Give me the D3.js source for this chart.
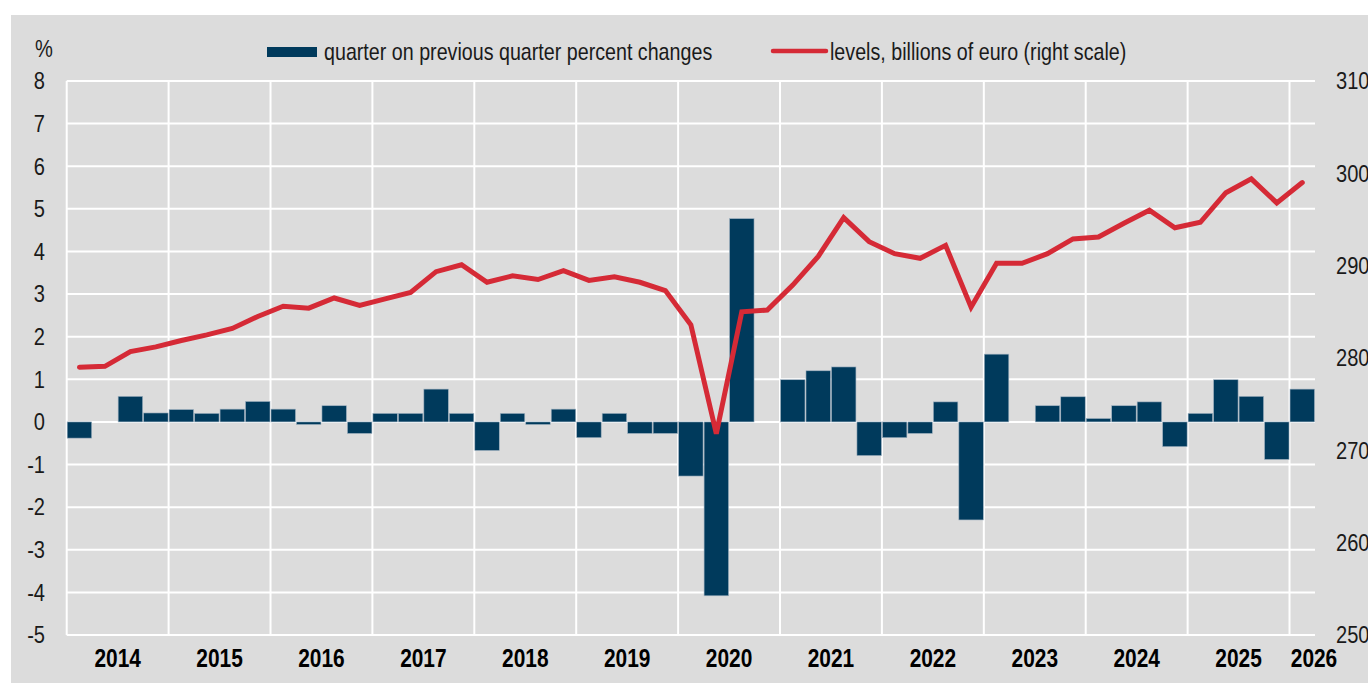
<!DOCTYPE html>
<html>
<head>
<meta charset="utf-8">
<script src="https://cdn.jsdelivr.net/npm/d3@7"></script>
<style>
  body { margin: 0; background: #fff; }
  svg { display: block; }
</style>
</head>
<body>
<svg id="chart" width="1368" height="686"></svg>
<script>
const quarters = [
  "2014Q1","2014Q2","2014Q3","2014Q4","2015Q1","2015Q2","2015Q3","2015Q4",
  "2016Q1","2016Q2","2016Q3","2016Q4","2017Q1","2017Q2","2017Q3","2017Q4",
  "2018Q1","2018Q2","2018Q3","2018Q4","2019Q1","2019Q2","2019Q3","2019Q4",
  "2020Q1","2020Q2","2020Q3","2020Q4","2021Q1","2021Q2","2021Q3","2021Q4",
  "2022Q1","2022Q2","2022Q3","2022Q4","2023Q1","2023Q2","2023Q3","2023Q4",
  "2024Q1","2024Q2","2024Q3","2024Q4","2025Q1","2025Q2","2025Q3","2025Q4",
  "2026Q1"
];
const years = [2014,2015,2016,2017,2018,2019,2020,2021,2022,2023,2024,2025,2026];

// quarter on previous quarter % change (left scale)
const qoqChange = [
  -0.38, 0.0, 0.6, 0.21, 0.29, 0.2, 0.3, 0.48,
  0.3, -0.06, 0.38, -0.27, 0.2, 0.2, 0.77, 0.2,
  -0.67, 0.2, -0.06, 0.3, -0.37, 0.2, -0.27, -0.27,
  -1.27, -4.08, 4.77, 0.0, 0.99, 1.2, 1.29, -0.79,
  -0.37, -0.27, 0.47, -2.3, 1.59, 0.0, 0.38, 0.59,
  0.08, 0.38, 0.47, -0.58, 0.2, 0.99, 0.6, -0.88,
  0.77
];
// levels, billions of euro (right scale)
const levels = [
  279.0, 279.1, 280.7, 281.2, 281.9, 282.5, 283.2, 284.5,
  285.6, 285.4, 286.5, 285.7, 286.4, 287.1, 289.35, 290.1,
  288.2, 288.9, 288.5, 289.45, 288.4, 288.8, 288.2, 287.3,
  283.6, 271.8, 285.0, 285.2, 287.9, 291.0, 295.2, 292.6,
  291.3, 290.8, 292.2, 285.5, 290.25, 290.25, 291.3, 292.9,
  293.1, 294.6, 296.0, 294.1, 294.7, 297.9, 299.4, 296.8,
  299.0
];
const leftTicks = [-5,-4,-3,-2,-1,0,1,2,3,4,5,6,7,8];
const rightTicks = [250,260,270,280,290,300,310];
const legendLabels = ["quarter on previous quarter percent changes", "levels, billions of euro (right scale)"];

const BAR = "#003a5c", RED = "#d52a36", BG = "#dcdcdc", TXT = "#1a1a1a";
const FONT = "'Liberation Sans', Arial, sans-serif";
const SQ = 0.82; // narrow the font horizontally, like Arial Narrow

const svg = d3.select("#chart");
const plot = { left: 66.7, right: 1315, top: 81, bottom: 635 };

svg.append("rect").attr("x", 11).attr("y", 15).attr("width", 1368 - 11).attr("height", 683 - 15).attr("fill", BG);

const x = d3.scaleBand().domain(quarters).range([plot.left, plot.right]).padding(0);
const bw = x.bandwidth();
const yL = d3.scaleLinear().domain([-5, 8]).range([plot.bottom, plot.top]);
const yR = d3.scaleLinear().domain([250, 310]).range([plot.bottom, plot.top]);

// narrow text placed at (px, py)
function narrowText(parent, px, py, str) {
  return parent.append("text")
    .attr("transform", `translate(${px},${py}) scale(${SQ},1)`)
    .text(str);
}

// grid
const grid = svg.append("g").attr("stroke", "#fff").attr("stroke-width", 2);
grid.selectAll("line.h").data(leftTicks).join("line")
  .attr("x1", plot.left).attr("x2", plot.right)
  .attr("y1", d => yL(d)).attr("y2", d => yL(d));
grid.selectAll("line.v").data(years).join("line")
  .attr("x1", d => x(d + "Q1")).attr("x2", d => x(d + "Q1"))
  .attr("y1", plot.top).attr("y2", plot.bottom);

// bars
svg.append("g").selectAll("rect").data(quarters).join("rect")
  .attr("x", (d) => x(d) + 0.5)
  .attr("width", bw - 1)
  .attr("y", (d, i) => yL(Math.max(0, qoqChange[i])))
  .attr("height", (d, i) => Math.abs(yL(qoqChange[i]) - yL(0)))
  .attr("fill", BAR)
  .attr("stroke", "#9fb1c0").attr("stroke-width", 0.6);

// line
const line = d3.line()
  .x((d, i) => x(quarters[i]) + bw / 2)
  .y(d => yR(d));
svg.append("path").datum(levels)
  .attr("d", line)
  .attr("fill", "none").attr("stroke", RED).attr("stroke-width", 5)
  .attr("stroke-linejoin", "miter").attr("stroke-linecap", "round");

// axes labels
const yAxisL = d3.axisLeft(yL).tickValues(leftTicks).tickFormat(d => String(d)).tickSize(0).tickPadding(0);
const gL = svg.append("g").attr("transform", `translate(45,0)`).call(yAxisL);
gL.select(".domain").remove();
gL.selectAll("text").attr("font-family", FONT).attr("font-size", 24.5).attr("fill", TXT)
  .attr("transform", `scale(${SQ},1)`);

const yAxisR = d3.axisRight(yR).tickValues(rightTicks).tickFormat(d => String(d)).tickSize(0).tickPadding(0);
const gR = svg.append("g").attr("transform", `translate(1336,0)`).call(yAxisR);
gR.select(".domain").remove();
gR.selectAll("text").attr("font-family", FONT).attr("font-size", 24.5).attr("fill", TXT)
  .attr("transform", `scale(${SQ},1)`);

const unit = svg.append("g").attr("font-family", FONT).attr("font-size", 24.5).attr("fill", TXT);
narrowText(unit, 35, 57, "%");

// year labels
const yl = svg.append("g")
  .attr("text-anchor", "middle")
  .attr("font-family", FONT).attr("font-size", 25.5).attr("font-weight", "bold").attr("fill", "#000");
years.forEach(d => {
  narrowText(yl, Math.min(x(d + "Q1") + 2 * bw, plot.right - 1), 667, d);
});

// legend
const lg = svg.append("g").attr("font-family", FONT).attr("font-size", 24).attr("fill", TXT);
lg.append("rect").attr("x", 267).attr("y", 47).attr("width", 50).attr("height", 10).attr("fill", BAR);
narrowText(lg, 324, 60, legendLabels[0]);
lg.append("line").attr("x1", 773).attr("x2", 826).attr("y1", 51).attr("y2", 51)
  .attr("stroke", RED).attr("stroke-width", 4.5).attr("stroke-linecap", "round");
narrowText(lg, 830, 60, legendLabels[1]);
</script>
</body>
</html>
